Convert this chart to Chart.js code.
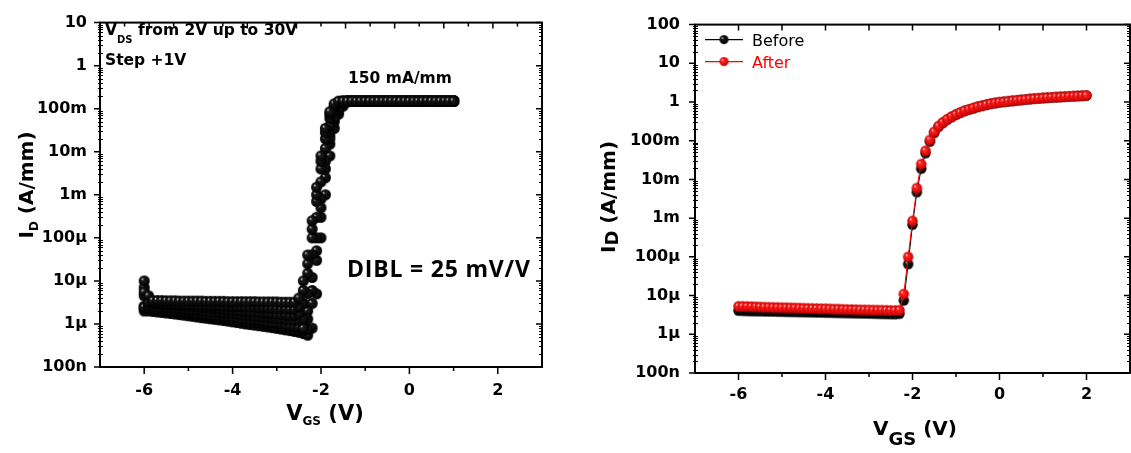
<!DOCTYPE html>
<html>
<head>
<meta charset="utf-8">
<script src="https://cdn.jsdelivr.net/npm/chart.js@4/dist/chart.umd.min.js"></script>
<style>
  html, body { margin: 0; padding: 0; background: #fff; overflow: hidden; width: 1131px; height: 453px; }
  canvas { position: absolute; top: 0; }
  #left { left: 0; }
  #right { left: 580px; }
</style>
</head>
<body>
<canvas id="left" width="575" height="453"></canvas>
<canvas id="right" width="556" height="453"></canvas>
<script>
// gate sweep (V), shared by both panels
const vgs = [-6.0,-5.9,-5.8,-5.7,-5.6,-5.5,-5.4,-5.3,-5.2,-5.1,-5.0,-4.9,-4.8,-4.7,-4.6,-4.5,-4.4,-4.3,-4.2,-4.1,
  -4.0,-3.9,-3.8,-3.7,-3.6,-3.5,-3.4,-3.3,-3.2,-3.1,-3.0,-2.9,-2.8,-2.7,-2.6,-2.5,-2.4,-2.3,-2.2,-2.1,
  -2.0,-1.9,-1.8,-1.7,-1.6,-1.5,-1.4,-1.3,-1.2,-1.1,-1.0,-0.9,-0.8,-0.7,-0.6,-0.5,-0.4,-0.3,-0.2,-0.1,
  0.0,0.1,0.2,0.3,0.4,0.5,0.6,0.7,0.8,0.9,1.0,1.1,1.2,1.3,1.4,1.5,1.6,1.7,1.8,1.9,2.0];

// left panel: ID (A/mm), VDS stepped 2V..30V (representative sweeps, -6V..1V)
const leftId1 = [1.0e-5, 4.5e-6,
  3.5e-6, 3.5e-6, 3.5e-6, 3.45e-6, 3.45e-6, 3.45e-6, 3.4e-6, 3.4e-6, 3.4e-6, 3.4e-6, 3.4e-6,
  3.4e-6, 3.35e-6, 3.35e-6, 3.35e-6, 3.35e-6, 3.35e-6, 3.3e-6, 3.3e-6, 3.3e-6, 3.3e-6, 3.3e-6,
  3.3e-6, 3.3e-6, 3.25e-6, 3.25e-6, 3.25e-6, 3.25e-6, 3.25e-6, 3.2e-6, 3.2e-6, 3.2e-6, 3.2e-6,
  4.0e-6, 1.0e-5, 4.0e-5, 2.5e-4, 1.5e-3, 8.0e-3, 3.5e-2, 8.5e-2, 0.13,
  0.15, 0.15, 0.15, 0.15, 0.15, 0.15, 0.15, 0.15, 0.15,
  0.15, 0.15, 0.15, 0.15, 0.15, 0.15, 0.15, 0.15, 0.15,
  0.15, 0.15, 0.15, 0.15, 0.15, 0.15, 0.15, 0.15, 0.15];
const leftId2 = [5.5e-6, 3.3e-6,
  3.2e-6, 3.15e-6, 3.1e-6, 3.05e-6, 3.0e-6, 2.97e-6, 2.94e-6, 2.91e-6, 2.88e-6, 2.85e-6, 2.82e-6,
  2.79e-6, 2.76e-6, 2.73e-6, 2.7e-6, 2.67e-6, 2.64e-6, 2.61e-6, 2.58e-6, 2.55e-6, 2.52e-6, 2.49e-6,
  2.46e-6, 2.43e-6, 2.4e-6, 2.37e-6, 2.34e-6, 2.31e-6, 2.28e-6, 2.25e-6, 2.22e-6, 2.2e-6, 2.2e-6,
  2.5e-6, 6.0e-6, 2.5e-5, 1.6e-4, 1.0e-3, 6.0e-3, 2.8e-2, 7.5e-2, 0.12, 0.145,
  0.15, 0.15, 0.15, 0.15, 0.15, 0.15, 0.15, 0.15, 0.15,
  0.15, 0.15, 0.15, 0.15, 0.15, 0.15, 0.15, 0.15, 0.15,
  0.15, 0.15, 0.15, 0.15, 0.15, 0.15, 0.15, 0.15];
const leftId3 = [7.0e-6, 3.2e-6,
  3.0e-6, 2.95e-6, 2.9e-6, 2.85e-6, 2.8e-6, 2.75e-6, 2.7e-6, 2.65e-6, 2.6e-6, 2.55e-6, 2.5e-6,
  2.45e-6, 2.4e-6, 2.35e-6, 2.3e-6, 2.25e-6, 2.2e-6, 2.15e-6, 2.1e-6, 2.05e-6, 2.0e-6, 1.97e-6,
  1.93e-6, 1.9e-6, 1.86e-6, 1.82e-6, 1.78e-6, 1.74e-6, 1.7e-6, 1.66e-6, 1.62e-6, 1.6e-6, 1.58e-6,
  1.7e-6, 3.0e-6, 1.5e-5, 1.0e-4, 7.0e-4, 4.0e-3, 2.0e-2, 6.0e-2, 0.11, 0.14,
  0.15, 0.15, 0.15, 0.15, 0.15, 0.15, 0.15, 0.15, 0.15,
  0.15, 0.15, 0.15, 0.15, 0.15, 0.15, 0.15, 0.15, 0.15,
  0.15, 0.15, 0.15, 0.15, 0.15, 0.15, 0.15, 0.15];
const leftId4 = [4.5e-6, 2.7e-6,
  2.6e-6, 2.55e-6, 2.5e-6, 2.45e-6, 2.4e-6, 2.35e-6, 2.3e-6, 2.25e-6, 2.2e-6, 2.15e-6, 2.1e-6,
  2.05e-6, 2.0e-6, 1.95e-6, 1.9e-6, 1.86e-6, 1.82e-6, 1.78e-6, 1.74e-6, 1.7e-6, 1.66e-6, 1.62e-6,
  1.58e-6, 1.54e-6, 1.5e-6, 1.46e-6, 1.42e-6, 1.38e-6, 1.34e-6, 1.3e-6, 1.27e-6, 1.24e-6, 1.2e-6,
  1.2e-6, 1.3e-6, 5.0e-6, 4.0e-5, 3.0e-4, 2.0e-3, 1.2e-2, 4.0e-2, 9.0e-2, 0.13,
  0.15, 0.15, 0.15, 0.15, 0.15, 0.15, 0.15, 0.15, 0.15,
  0.15, 0.15, 0.15, 0.15, 0.15, 0.15, 0.15, 0.15, 0.15,
  0.15, 0.15, 0.15, 0.15, 0.15, 0.15, 0.15, 0.15];
const leftId5 = [2.45e-6, 2.4e-6,
  2.3e-6, 2.25e-6, 2.2e-6, 2.15e-6, 2.1e-6, 2.05e-6, 2.0e-6, 1.95e-6, 1.9e-6, 1.85e-6, 1.8e-6,
  1.75e-6, 1.7e-6, 1.65e-6, 1.6e-6, 1.56e-6, 1.52e-6, 1.48e-6, 1.44e-6, 1.4e-6, 1.36e-6, 1.32e-6,
  1.28e-6, 1.24e-6, 1.2e-6, 1.16e-6, 1.12e-6, 1.08e-6, 1.04e-6, 1.0e-6, 9.6e-7, 9.2e-7, 8.8e-7,
  8.5e-7, 8.0e-7, 1.3e-6, 6.0e-6, 5.0e-5, 5.0e-4, 4.0e-3, 2.0e-2, 6.0e-2, 0.10, 0.135,
  0.15, 0.15, 0.15, 0.15, 0.15, 0.15, 0.15, 0.15, 0.15,
  0.15, 0.15, 0.15, 0.15, 0.15, 0.15, 0.15, 0.15, 0.15,
  0.15, 0.15, 0.15, 0.15, 0.15, 0.15, 0.15];
const leftId6 = [2.6e-6, 2.5e-6,
  2.4e-6, 2.35e-6, 2.3e-6, 2.25e-6, 2.2e-6, 2.14e-6, 2.08e-6, 2.02e-6, 1.96e-6, 1.9e-6, 1.85e-6,
  1.8e-6, 1.75e-6, 1.7e-6, 1.65e-6, 1.6e-6, 1.55e-6, 1.5e-6, 1.46e-6, 1.42e-6, 1.38e-6, 1.34e-6,
  1.3e-6, 1.26e-6, 1.22e-6, 1.18e-6, 1.14e-6, 1.1e-6, 1.06e-6, 1.02e-6, 9.8e-7, 9.5e-7, 9.2e-7,
  9.0e-7, 8.5e-7, 2.0e-6, 1.2e-5, 1.0e-4, 8.0e-4, 6.0e-3, 2.5e-2, 7.0e-2, 0.11, 0.14,
  0.15, 0.15, 0.15, 0.15, 0.15, 0.15, 0.15, 0.15, 0.15,
  0.15, 0.15, 0.15, 0.15, 0.15, 0.15, 0.15, 0.15, 0.15,
  0.15, 0.15, 0.15, 0.15, 0.15, 0.15, 0.15];
const leftId7 = [2.3e-6, 2.25e-6,
  2.2e-6, 2.14e-6, 2.08e-6, 2.02e-6, 1.96e-6, 1.9e-6, 1.85e-6, 1.8e-6, 1.75e-6, 1.7e-6, 1.65e-6,
  1.6e-6, 1.55e-6, 1.5e-6, 1.45e-6, 1.4e-6, 1.36e-6, 1.32e-6, 1.28e-6, 1.24e-6, 1.2e-6, 1.16e-6,
  1.12e-6, 1.08e-6, 1.04e-6, 1.0e-6, 9.6e-7, 9.2e-7, 8.8e-7, 8.4e-7, 8.0e-7, 7.7e-7, 7.4e-7,
  7.2e-7, 7.0e-7, 7.5e-7, 3.0e-6, 3.0e-5, 3.0e-4, 2.5e-3, 1.5e-2, 5.0e-2, 9.5e-2, 0.13,
  0.15, 0.15, 0.15, 0.15, 0.15, 0.15, 0.15, 0.15, 0.15,
  0.15, 0.15, 0.15, 0.15, 0.15, 0.15, 0.15, 0.15, 0.15,
  0.15, 0.15, 0.15, 0.15, 0.15, 0.15, 0.15];
const leftId8 = [2.0e-6, 2.0e-6,
  1.95e-6, 1.9e-6, 1.85e-6, 1.8e-6, 1.75e-6, 1.7e-6, 1.65e-6, 1.6e-6, 1.55e-6, 1.5e-6, 1.45e-6,
  1.4e-6, 1.36e-6, 1.32e-6, 1.28e-6, 1.24e-6, 1.2e-6, 1.16e-6, 1.12e-6, 1.08e-6, 1.04e-6, 1.0e-6,
  9.7e-7, 9.4e-7, 9.1e-7, 8.8e-7, 8.5e-7, 8.2e-7, 7.9e-7, 7.6e-7, 7.3e-7, 7.0e-7, 6.7e-7,
  6.4e-7, 6.0e-7, 5.5e-7, 8.0e-7, 5.0e-6, 1.0e-4, 1.0e-3, 8.0e-3, 3.5e-2, 7.5e-2, 0.115, 0.145,
  0.15, 0.15, 0.15, 0.15, 0.15, 0.15, 0.15, 0.15, 0.15,
  0.15, 0.15, 0.15, 0.15, 0.15, 0.15, 0.15, 0.15, 0.15,
  0.15, 0.15, 0.15, 0.15, 0.15, 0.15];

// right panel: ID (A/mm), before / after
const afterId = [5.3e-6, 5.3e-6, 5.25e-6, 5.2e-6, 5.15e-6, 5.1e-6, 5.05e-6, 5.0e-6, 4.97e-6, 4.94e-6,
  4.9e-6, 4.87e-6, 4.84e-6, 4.8e-6, 4.77e-6, 4.74e-6, 4.7e-6, 4.67e-6, 4.64e-6, 4.6e-6,
  4.57e-6, 4.54e-6, 4.5e-6, 4.47e-6, 4.44e-6, 4.4e-6, 4.37e-6, 4.34e-6, 4.3e-6, 4.28e-6,
  4.26e-6, 4.24e-6, 4.22e-6, 4.2e-6, 4.18e-6, 4.16e-6, 4.14e-6, 4.2e-6,
  1.1e-5, 1.0e-4, 8.5e-4, 6.0e-3, 2.5e-2, 5.5e-2, 0.105, 0.17, 0.24, 0.30, 0.36, 0.42,
  0.48, 0.54, 0.60, 0.65, 0.70, 0.76, 0.81, 0.86, 0.91, 0.95,
  0.99, 1.02, 1.05, 1.08, 1.11, 1.14, 1.17, 1.20, 1.23, 1.25,
  1.28, 1.30, 1.32, 1.34, 1.36, 1.38, 1.40, 1.42, 1.44, 1.46, 1.48];
const beforeId = [4.1e-6, 4.05e-6, 4.0e-6, 3.98e-6, 3.96e-6, 3.94e-6, 3.92e-6, 3.9e-6, 3.88e-6, 3.86e-6,
  3.84e-6, 3.82e-6, 3.8e-6, 3.78e-6, 3.76e-6, 3.74e-6, 3.72e-6, 3.7e-6, 3.68e-6, 3.66e-6,
  3.64e-6, 3.62e-6, 3.6e-6, 3.58e-6, 3.56e-6, 3.54e-6, 3.52e-6, 3.5e-6, 3.48e-6, 3.46e-6,
  3.44e-6, 3.42e-6, 3.4e-6, 3.38e-6, 3.36e-6, 3.34e-6, 3.32e-6, 3.4e-6,
  7.5e-6, 6.5e-5, 6.8e-4, 4.7e-3, 1.9e-2, 4.8e-2, 0.095, 0.16, 0.23, 0.29, 0.35, 0.41,
  0.47, 0.53, 0.59, 0.64, 0.69, 0.75, 0.80, 0.85, 0.90, 0.94,
  0.98, 1.01, 1.04, 1.07, 1.10, 1.13, 1.16, 1.19, 1.22, 1.24,
  1.27, 1.29, 1.31, 1.33, 1.35, 1.37, 1.39, 1.41, 1.43, 1.45, 1.47];

const xTicks = [-6, -4, -2, 0, 2];
const leftYTicks = [1e-7, 1e-6, 1e-5, 1e-4, 1e-3, 1e-2, 1e-1, 1, 10];
const rightYTicks = [1e-7, 1e-6, 1e-5, 1e-4, 1e-3, 1e-2, 1e-1, 1, 10, 100];
const yTickText = ['100n', '1\u00b5', '10\u00b5', '100\u00b5', '1m', '10m', '100m', '1', '10', '100'];

const FONT = 'DejaVu Sans';

// shaded sphere used as the marker
function makeBall(r, light, mid, dark) {
  const c = document.createElement('canvas');
  const s = Math.ceil(r * 2 + 2);
  c.width = c.height = s;
  const g = c.getContext('2d');
  const cx = s / 2, cy = s / 2;
  const grad = g.createRadialGradient(cx - r * 0.4, cy - r * 0.4, 0, cx, cy, r);
  grad.addColorStop(0, light);
  grad.addColorStop(0.3, mid);
  grad.addColorStop(1, dark);
  g.fillStyle = grad;
  g.beginPath();
  g.arc(cx, cy, r, 0, Math.PI * 2);
  g.fill();
  return c;
}
const blackBall = makeBall(5.5, '#e0e0e0', '#1a1a1a', '#000');
const blackBallR = makeBall(5.2, '#e0e0e0', '#1a1a1a', '#000');
const redBall = makeBall(5.2, '#ffd6d6', '#ff2424', '#c80000');
const blackBallSmall = makeBall(4.5, '#e0e0e0', '#1a1a1a', '#000');
const redBallSmall = makeBall(4.5, '#ffd6d6', '#ff2424', '#c80000');

// text with sub/superscript parts: [text, size, weight, dy]
function rich(ctx, x, y, parts, align, color) {
  ctx.fillStyle = color || '#000';
  ctx.textAlign = 'left';
  ctx.textBaseline = 'alphabetic';
  let w = 0;
  parts.forEach(p => { ctx.font = `${p[2]} ${p[1]}px "${FONT}"`; w += ctx.measureText(p[0]).width; });
  let cx = align === 'center' ? x - w / 2 : x;
  parts.forEach(p => {
    ctx.font = `${p[2]} ${p[1]}px "${FONT}"`;
    ctx.fillText(p[0], cx, y + p[3]);
    cx += ctx.measureText(p[0]).width;
  });
}

// box with mirrored ticks, minor log ticks
const frame = {
  id: 'frame',
  afterDatasetsDraw(chart, args, o) {
    const { ctx, chartArea: a } = chart;
    const x = chart.scales.x, y = chart.scales.y;
    ctx.save();
    ctx.strokeStyle = '#000';
    ctx.lineWidth = 1.5;
    ctx.beginPath();
    for (let v = x.min + 1; v < x.max; v++) {
      const px = x.getPixelForValue(v);
      const len = v % 2 === 0 ? 7 : 4;
      ctx.moveTo(px, a.bottom); ctx.lineTo(px, a.bottom + len);
      if (!o.topSteps) { ctx.moveTo(px, a.top); ctx.lineTo(px, a.top + 6); }
    }
    if (o.topSteps) {
      for (let i = 1; i < o.topSteps; i++) {
        const px = a.left + i * (a.right - a.left) / o.topSteps;
        ctx.moveTo(px, a.top); ctx.lineTo(px, a.top + (i % 2 === 0 ? 6 : 4));
      }
    }
    const e0 = Math.round(Math.log10(y.min)), e1 = Math.round(Math.log10(y.max));
    for (let e = e0; e <= e1; e++) {
      const py = y.getPixelForValue(Math.pow(10, e));
      ctx.moveTo(a.left - 6, py); ctx.lineTo(a.left, py);
      ctx.moveTo(a.right - 6, py); ctx.lineTo(a.right, py);
    }
    ctx.stroke();
    ctx.lineWidth = 1;
    ctx.beginPath();
    for (let e = e0; e < e1; e++) {
      for (let k = 2; k <= 9; k++) {
        const py = Math.round(y.getPixelForValue(k * Math.pow(10, e))) + 0.5;
        ctx.moveTo(a.left - 2, py); ctx.lineTo(a.left + 3, py);
        ctx.moveTo(a.right - 3, py); ctx.lineTo(a.right, py);
      }
    }
    ctx.stroke();
    ctx.lineWidth = 2;
    ctx.strokeRect(a.left, a.top, a.right - a.left, a.bottom - a.top);
    ctx.restore();
  },
  afterDraw(chart, args, o) {
    if (o.labels) {
      chart.ctx.save();
      o.labels(chart.ctx, chart.chartArea);
      chart.ctx.restore();
    }
  }
};
Chart.register(frame);

function axes(yMin, yMax, yVals, yW, yPad, xH, xPad) {
  const tickFont = { family: FONT, size: 16, weight: 'bold' };
  return {
    x: {
      type: 'linear', min: -7, max: 3,
      grid: { display: false, drawTicks: false }, border: { display: false },
      afterBuildTicks: s => { s.ticks = xTicks.map(v => ({ value: v })); },
      afterFit: s => { s.height = xH; },
      ticks: { padding: xPad, color: '#000', font: tickFont, maxRotation: 0, autoSkip: false }
    },
    y: {
      type: 'logarithmic', min: yMin, max: yMax,
      grid: { display: false, drawTicks: false }, border: { display: false },
      afterBuildTicks: s => { s.ticks = yVals.map(v => ({ value: v })); },
      afterFit: s => { s.width = yW; },
      ticks: { padding: yPad, color: '#000', font: tickFont, autoSkip: false,
        callback: (v, i) => yTickText[i] }
    }
  };
}

const leftSets = [leftId1, leftId2, leftId3, leftId4, leftId5, leftId6, leftId7, leftId8].map(arr => ({
  data: arr.map((v, i) => ({ x: vgs[i], y: v })),
  showLine: false, pointStyle: blackBall, pointRadius: 5.5
}));

new Chart(document.getElementById('left'), {
  type: 'scatter',
  data: { datasets: leftSets },
  options: {
    responsive: false, animation: false, devicePixelRatio: 1,
    layout: { padding: { left: 0, right: 33, top: 14, bottom: 0 } },
    scales: axes(1e-7, 10, leftYTicks, 100, 13, 86, 14),
    plugins: {
      legend: { display: false }, tooltip: { enabled: false },
      frame: {
        topSteps: 18,
        labels: (ctx, a) => {
          rich(ctx, 105, 35, [['V', 15.5, 'bold', 0], ['DS', 10, 'bold', 8], [' from 2V up to 30V', 15.5, 'bold', 0]]);
          rich(ctx, 105, 65, [['Step +1V', 15.5, 'bold', 0]]);
          rich(ctx, 348, 83, [['150 mA/mm', 15.5, 'bold', 0]]);
          ctx.font = 'bold 23px "Open Sans"';
          ctx.fillStyle = '#000';
          ctx.letterSpacing = '0.8px';
          ctx.fillText('DIBL = 25 mV/V', 347, 277);
          ctx.letterSpacing = '0px';
          rich(ctx, 325, 420, [['V', 21, 'bold', 0], ['GS', 12, 'bold', 5], [' (V)', 21, 'bold', 0]], 'center');
          ctx.save();
          ctx.translate(33, 185);
          ctx.rotate(-Math.PI / 2);
          rich(ctx, 0, 0, [['I', 20, 'bold', 0], ['D', 12, 'bold', 5], [' (A/mm)', 20, 'bold', 0]], 'center');
          ctx.restore();
        }
      }
    }
  }
});

new Chart(document.getElementById('right'), {
  type: 'scatter',
  data: {
    datasets: [
      { label: 'After', data: afterId.map((v, i) => ({ x: vgs[i], y: v })),
        showLine: true, borderColor: '#ff0000', borderWidth: 1, pointStyle: redBall, pointRadius: 5 },
      { label: 'Before', data: beforeId.map((v, i) => ({ x: vgs[i], y: v })),
        showLine: true, borderColor: '#000', borderWidth: 1, pointStyle: blackBallR, pointRadius: 5 }
    ]
  },
  options: {
    responsive: false, animation: false, devicePixelRatio: 1,
    layout: { padding: { left: 0, right: 1, top: 20, bottom: 0 } },
    scales: axes(1e-7, 100, rightYTicks, 115, 15, 80, 12),
    plugins: {
      legend: { display: false }, tooltip: { enabled: false },
      frame: {
        labels: (ctx, a) => {
          const rows = [['Before', '#000', blackBallSmall, 15], ['After', '#ff0000', redBallSmall, 37]];
          rows.forEach(([t, col, ball, dy]) => {
            const yy = a.top + dy;
            ctx.strokeStyle = col;
            ctx.lineWidth = 1.2;
            ctx.beginPath();
            ctx.moveTo(a.left + 10, yy); ctx.lineTo(a.left + 48, yy);
            ctx.stroke();
            ctx.drawImage(ball, a.left + 29 - ball.width / 2, yy - ball.height / 2);
            rich(ctx, a.left + 57, yy + 6, [[t, 16, 'normal', 0]], 'left', col);
          });
          rich(ctx, 335, 435, [['V', 20, 'bold', 0], ['GS', 18, 'bold', 10], [' (V)', 20, 'bold', 0]], 'center');
          ctx.save();
          ctx.translate(35, 197);
          ctx.rotate(-Math.PI / 2);
          rich(ctx, 0, 0, [['I', 20, 'bold', 0], ['D', 18, 'bold', 3], [' (A/mm)', 20, 'bold', 0]], 'center');
          ctx.restore();
        }
      }
    }
  }
});
</script>
</body>
</html>
